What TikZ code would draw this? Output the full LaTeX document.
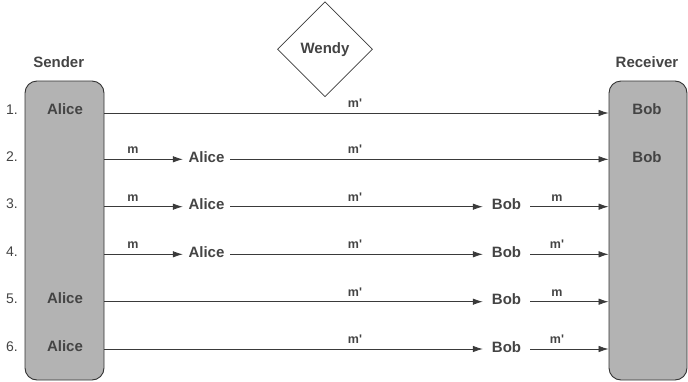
\documentclass[tikz,border=0pt]{standalone}
\usepackage{fontspec}
\setmainfont{Liberation Sans}
\usetikzlibrary{arrows.meta,shapes.geometric}
\definecolor{txt}{HTML}{444444}
\definecolor{boxfill}{HTML}{B3B3B3}
\definecolor{boxline}{HTML}{333333}
\definecolor{ln}{HTML}{3A3A3A}
\newcommand{\mprime}{m\textquotesingle}
\begin{document}
\begin{tikzpicture}[x=1pt,y=-1pt,
  party/.style={draw=boxline,fill=boxfill,rounded corners=12pt,line width=0.9pt,inner sep=0pt},
  title/.style={font=\fontsize{15}{17}\selectfont\bfseries,text=txt,inner sep=0pt},
  who/.style={font=\fontsize{15}{17}\selectfont\bfseries,text=txt,inner sep=0pt,text depth=0pt},
  relay/.style={who,minimum width=47pt},
  num/.style={font=\fontsize{14}{16}\selectfont,text=txt,inner sep=0pt,text depth=0pt},
  msg/.style={font=\fontsize{12.5}{14}\selectfont\bfseries,text=txt,inner sep=0pt,anchor=base},
  arr/.style={draw=ln,line width=0.8pt,-{Latex[length=10pt,width=6.5pt]}}]
\useasboundingbox (0,0) rectangle (688,381);
% parties
\node[party,minimum width=79pt,minimum height=299pt] (sender) at (64.5,230.5) {};
\node[party,minimum width=78pt,minimum height=299pt] (receiver) at (648,230.5) {};
\node[title] (stitle) at (58.7,62) {Sender};
\node[title] (rtitle) at (647,62) {Receiver};
\node[draw=ln,line width=0.7pt,diamond,minimum width=95pt,minimum height=95pt,inner sep=0pt,
      font=\fontsize{15}{17}\selectfont\bfseries,text=txt] (wendy) at (325,49.3) {Wendy};
% row lines
\coordinate (r1) at (0,113);
\coordinate (r2) at (0,159.3);
\coordinate (r3) at (0,206.7);
\coordinate (r4) at (0,254.3);
\coordinate (r5) at (0,301.7);
\coordinate (r6) at (0,349);
% numbers
\node[num] (n1) at (12,110) {1.};
\node[num] (n2) at (12,157) {2.};
\node[num] (n3) at (12,204) {3.};
\node[num] (n4) at (12,251.5) {4.};
\node[num] (n5) at (12,299) {5.};
\node[num] (n6) at (12,346.5) {6.};
% names inside boxes
\node[who] (sa1) at (65,109) {Alice};
\node[who] (sa5) at (65,298.5) {Alice};
\node[who] (sa6) at (65,346) {Alice};
\node[who] (rb1) at (647,109) {Bob};
\node[who] (rb2) at (647,157) {Bob};
% relay nodes
\node[relay] (a2) at (206.5,157.5) {Alice};
\node[relay] (a3) at (206.5,204.5) {Alice};
\node[relay] (a4) at (206.5,252) {Alice};
\node[relay] (b3) at (506.5,204.5) {Bob};
\node[relay] (b4) at (506.5,252) {Bob};
\node[relay] (b5) at (506.5,299.5) {Bob};
\node[relay] (b6) at (506.5,347) {Bob};
% row 1
\draw[arr] (sender.east |- r1) -- (receiver.west |- r1);
% row 2
\draw[arr] (sender.east |- r2) -- (a2.west |- r2);
\draw[arr] (a2.east |- r2) -- (receiver.west |- r2);
% row 3
\draw[arr] (sender.east |- r3) -- (a3.west |- r3);
\draw[arr] (a3.east |- r3) -- (b3.west |- r3);
\draw[arr] (b3.east |- r3) -- (receiver.west |- r3);
% row 4
\draw[arr] (sender.east |- r4) -- (a4.west |- r4);
\draw[arr] (a4.east |- r4) -- (b4.west |- r4);
\draw[arr] (b4.east |- r4) -- (receiver.west |- r4);
% row 5
\draw[arr] (sender.east |- r5) -- (b5.west |- r5);
\draw[arr] (b5.east |- r5) -- (receiver.west |- r5);
% row 6
\draw[arr] (sender.east |- r6) -- (b6.west |- r6);
\draw[arr] (b6.east |- r6) -- (receiver.west |- r6);
% labels
\node[msg] (l1) at (355,107.5) {\mprime};
\node[msg] (l2a) at (133,153.8) {m};
\node[msg] (l2b) at (355,153.8) {\mprime};
\node[msg] (l3a) at (133,201.2) {m};
\node[msg] (l3b) at (355,201.2) {\mprime};
\node[msg] (l3c) at (557,201.2) {m};
\node[msg] (l4a) at (133,248.8) {m};
\node[msg] (l4b) at (355,248.8) {\mprime};
\node[msg] (l4c) at (557,248.8) {\mprime};
\node[msg] (l5b) at (355,296.2) {\mprime};
\node[msg] (l5c) at (557,296.2) {m};
\node[msg] (l6b) at (355,343.5) {\mprime};
\node[msg] (l6c) at (557,343.5) {\mprime};
\end{tikzpicture}
\end{document}
